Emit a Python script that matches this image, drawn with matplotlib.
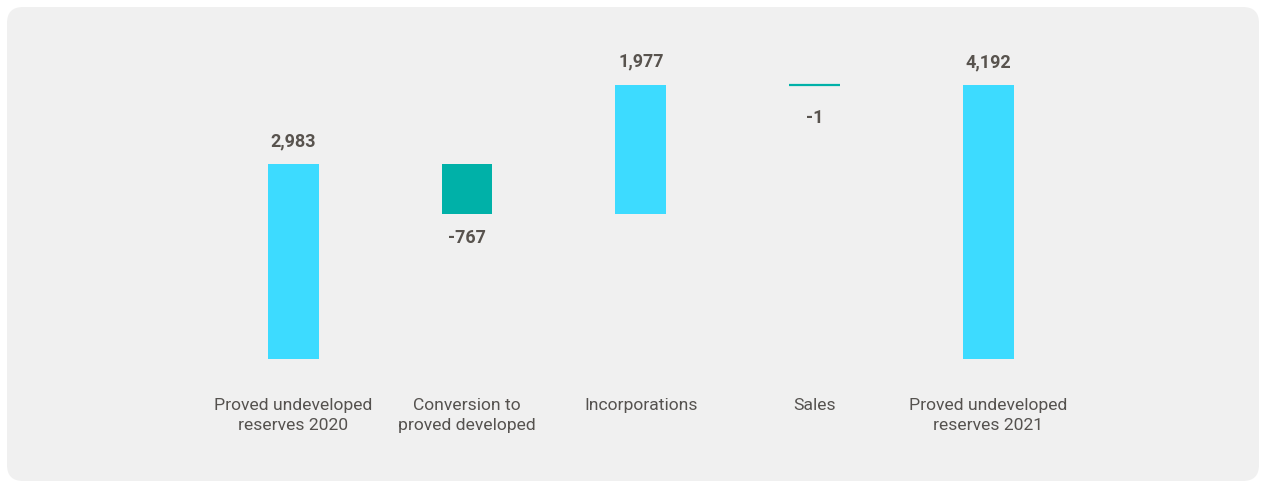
import matplotlib
matplotlib.use("Agg")
import matplotlib.pyplot as plt
from matplotlib.patches import FancyBboxPatch
from matplotlib.transforms import IdentityTransform
import numpy as np

categories = ["Proved undeveloped\nreserves 2020", "Conversion to\nproved developed",
              "Incorporations", "Sales", "Proved undeveloped\nreserves 2021"]
start_value = 2983
changes = [-767, 1977, -1]
end_value = 4192
value_labels = ["2,983", "-767", "1,977", "-1", "4,192"]

CYAN = "#3DDBFF"
TEAL = "#00B1A8"
TEXT_VAL = "#58534E"
TEXT_CAT = "#55524F"
PANEL = "#F0F0F0"

W, H = 1261, 483
fig = plt.figure(figsize=(W / 100, H / 100), dpi=100)
fig.patch.set_facecolor("white")

# panel in pixel coordinates (origin bottom-left)
px_left, px_top, px_right, px_bottom = 7, 7, 1259, 481
panel = FancyBboxPatch((px_left, H - px_bottom), px_right - px_left, px_bottom - px_top,
                       boxstyle="round,pad=0,rounding_size=16",
                       transform=IdentityTransform(), facecolor=PANEL,
                       edgecolor="none", zorder=-10)
fig.patches.append(panel)

ax = fig.add_axes([0, 0, 1, 1])
ax.set_facecolor("none")
ax.set_zorder(5)
for s in ax.spines.values():
    s.set_visible(False)
ax.set_xticks([])
ax.set_yticks([])

# waterfall geometry
bottoms, heights, colors = [], [], []
bottoms.append(0); heights.append(start_value); colors.append(CYAN)
run = start_value
for c in changes:
    if c < 0:
        bottoms.append(run + c); heights.append(-c); colors.append(TEAL)
    else:
        bottoms.append(run); heights.append(c); colors.append(CYAN)
    run += c
bottoms.append(0); heights.append(end_value); colors.append(CYAN)
signs = [1] + [np.sign(c) for c in changes] + [1]

x = np.arange(len(categories))
step_px = 173.8
x0_px = 293.2
base_px = 359
scale = 274 / 4192  # px per unit
ax.set_xlim(-x0_px / step_px, (W - x0_px) / step_px)
ax.set_ylim(-(H - base_px) / scale, base_px / scale)

lws = [0 if h > 50 else 1.6 for h in heights]
edge = [c if h <= 50 else "none" for c, h in zip(colors, heights)]
ax.bar(x, heights, bottom=bottoms, width=0.293, color=colors,
       edgecolor=edge, linewidth=lws)

for i in range(len(x)):
    top = bottoms[i] + heights[i]
    if signs[i] >= 0:
        ax.annotate(value_labels[i], (x[i], top), xytext=(0, 23 * 0.72),
                    textcoords="offset points", ha="center", va="center",
                    fontsize=13, fontweight="bold", color=TEXT_VAL,
                    family="Roboto")
    else:
        off = 24 if heights[i] > 50 else 33
        ax.annotate(value_labels[i], (x[i], bottoms[i]), xytext=(0, -off * 0.72),
                    textcoords="offset points", ha="center", va="center",
                    fontsize=13, fontweight="bold", color=TEXT_VAL,
                    family="Roboto")

label_y = (base_px - 398) / scale
for i, lab in enumerate(categories):
    ax.text(x[i], label_y, lab, ha="center", va="top", fontsize=12.6,
            color=TEXT_CAT, family="Roboto", linespacing=1.4)

fig.savefig("out.png", dpi=100, facecolor="white")
